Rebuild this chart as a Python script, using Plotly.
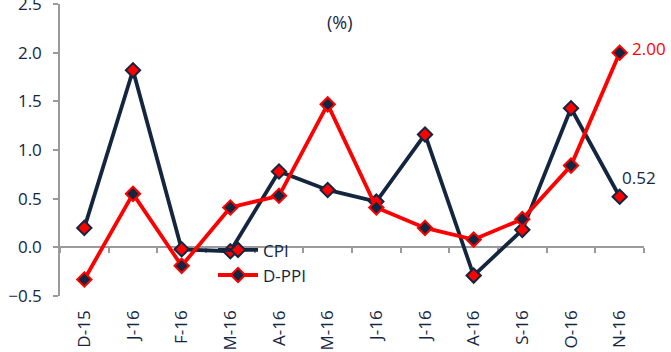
import plotly.graph_objects as go

# Monthly readings, Dec-2015 to Nov-2016
months = ["D-15", "J-16", "F-16", "M-16", "A-16", "M-16",
          "J-16", "J-16", "A-16", "S-16", "O-16", "N-16"]
cpi = [0.20, 1.82, -0.02, -0.04, 0.78, 0.59, 0.47, 1.16, -0.29, 0.18, 1.43, 0.52]
d_ppi = [-0.33, 0.55, -0.19, 0.41, 0.53, 1.47, 0.41, 0.20, 0.08, 0.29, 0.84, 2.00]
y_ticks = [-0.5, 0.0, 0.5, 1.0, 1.5, 2.0, 2.5]

NAVY = "#14263f"
RED = "#ff0000"
GREY = "#9a9a9a"
FONT = "Open Sans"

x = list(range(len(months)))
y_min, y_max = -0.5, 2.5

fig = go.Figure()
fig.add_trace(go.Scatter(
    x=x, y=cpi, name="CPI", mode="lines+markers",
    line=dict(color=NAVY, width=3.8),
    marker=dict(symbol="diamond", size=11, color=RED,
                line=dict(color=NAVY, width=2)),
))
fig.add_trace(go.Scatter(
    x=x, y=d_ppi, name="D-PPI", mode="lines+markers",
    line=dict(color=RED, width=3.8),
    marker=dict(symbol="diamond", size=11, color=NAVY,
                line=dict(color=RED, width=2)),
))
# Empty trace so the zero-line category axis gets drawn
fig.add_trace(go.Scatter(x=[None], y=[None], xaxis="x2", showlegend=False,
                         hoverinfo="skip", mode="lines"))

# End-of-series value labels
fig.add_annotation(x=x[-1], y=d_ppi[-1], text=f"{d_ppi[-1]:.2f}",
                   showarrow=False, xanchor="left", xshift=10, yshift=4,
                   font=dict(color=RED, size=17, family=FONT))
fig.add_annotation(x=x[-1], y=cpi[-1], text=f"{cpi[-1]:.2f}",
                   showarrow=False, xanchor="left", xshift=0, yshift=19,
                   font=dict(color=NAVY, size=17, family=FONT))

# Unit label under the heading
fig.add_annotation(x=0.479, y=1.0, xref="paper", yref="paper",
                   text="(%)", showarrow=False, yanchor="top", yshift=-4,
                   font=dict(color=NAVY, size=18, family=FONT))

zero_pos = (0 - y_min) / (y_max - y_min)

fig.update_layout(
    width=671, height=352,
    margin=dict(l=60, r=27, t=4, b=56, autoexpand=False),
    paper_bgcolor="white", plot_bgcolor="white",
    font=dict(family=FONT, color=NAVY, size=17),
    showlegend=True,
    legend=dict(x=0.262, y=0.218, xanchor="left", yanchor="top",
                bgcolor="rgba(0,0,0,0)", tracegroupgap=0,
                font=dict(size=17, color=NAVY, family=FONT),
                itemwidth=40),
    xaxis=dict(
        range=[-0.5, len(months) - 0.5],
        tickmode="array", tickvals=x, ticktext=months,
        tickangle=-90, showline=False, showgrid=False, zeroline=False,
        ticks="", ticklabelstandoff=10, automargin=False,
        ticklabeloverflow="allow",
        tickfont=dict(size=17, color=NAVY, family=FONT),
    ),
    # Category axis drawn along the zero line
    xaxis2=dict(
        overlaying="x", anchor="free", position=zero_pos,
        range=[-0.5, len(months) - 0.5],
        tickmode="array", tickvals=[i + 0.5 for i in range(-1, len(months))],
        showticklabels=False, ticks="outside", ticklen=5, tickwidth=1.5,
        tickcolor=GREY, showline=True, linecolor=GREY, linewidth=1.5,
        showgrid=False, zeroline=False, layer="below traces",
    ),
    yaxis=dict(
        range=[y_min, y_max + 0.001], tickmode="array", tickvals=y_ticks,
        ticktext=[f"{v:.1f}".replace("-", "\u2212") for v in y_ticks],
        showline=True, linecolor=GREY, linewidth=1.5,
        ticks="outside", ticklen=5, tickwidth=1.5, tickcolor=GREY,
        ticklabelstandoff=8, automargin=False, ticklabeloverflow="allow",
        showgrid=False, zeroline=False,
        tickfont=dict(size=17, color=NAVY, family=FONT),
    ),
)

fig.write_html("out.html")
